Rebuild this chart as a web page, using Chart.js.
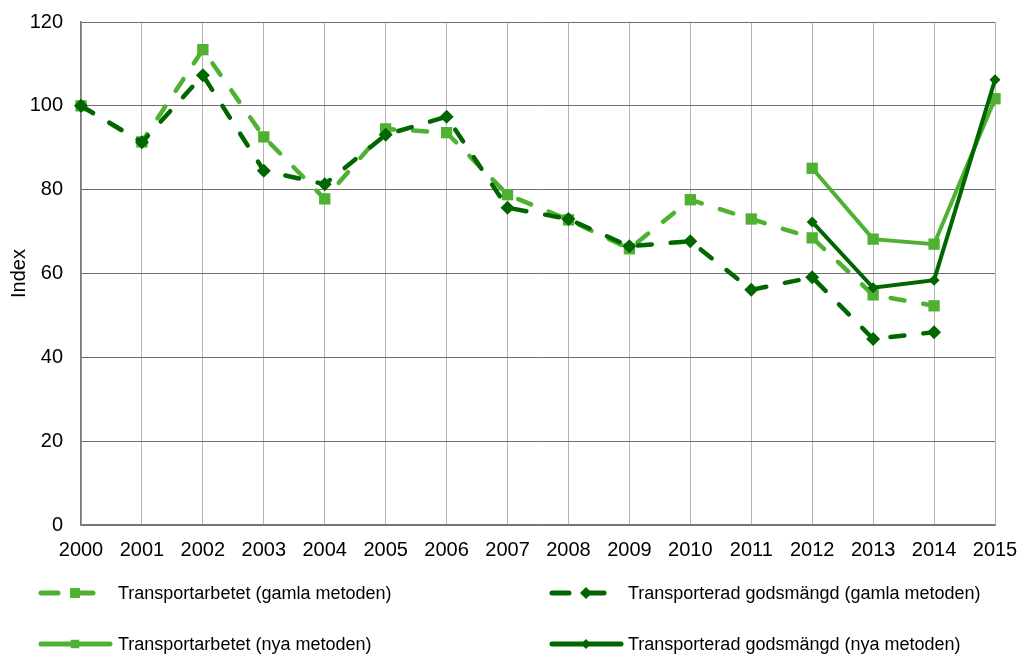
<!DOCTYPE html>
<html>
<head>
<meta charset="utf-8">
<script src="https://cdn.jsdelivr.net/npm/chart.js@4.4.0/dist/chart.umd.min.js"></script>
<style>
  body { margin: 0; background: #fff; }
  #wrap { width: 1021px; height: 655px; }
</style>
</head>
<body>
<div id="wrap"><canvas id="lineChart" width="1021" height="655"></canvas></div>
<script>
// år på x-axeln
var years = ['2000','2001','2002','2003','2004','2005','2006','2007','2008','2009','2010','2011','2012','2013','2014','2015'];
// gamla metoden (saknar 2015)
var arbeteGamla = [100, 91.4, 113.4, 92.6, 77.8, 94.5, 93.6, 78.8, 72.8, 65.9, 77.6, 73.0, 68.5, 54.9, 52.3, null];
var godsGamla   = [100, 91.3, 107.3, 84.5, 81.3, 93.1, 97.4, 75.7, 73.0, 66.5, 67.7, 56.1, 59.1, 44.4, 46.0, null];
// nya metoden (från 2012)
var arbeteNya = [null, null, null, null, null, null, null, null, null, null, null, null, 85.1, 68.2, 67.0, 101.7];
var godsNya   = [null, null, null, null, null, null, null, null, null, null, null, null, 72.3, 56.6, 58.4, 106.2];
var yTicks = [0, 20, 40, 60, 80, 100, 120];

var ljus = '#4fb131';
var mork = '#006600';
var font = "'Liberation Sans', Arial, sans-serif";

// legenden ritas själv, två kolumner: [x, y, textx]
var legendPos = [[39, 593, 118], [550, 593, 628], [39, 644, 118], [550, 644, 628]];
var legendPlugin = {
    id: 'tvaKolumner',
    afterDraw: function(chart) {
        var ctx = chart.ctx;
        chart.data.datasets.forEach(function(ds, i) {
            var p = legendPos[i];
            var x = p[0], y = p[1];
            var streckad = ds.borderDash.length > 0;
            ctx.save();
            ctx.strokeStyle = ds.borderColor;
            ctx.fillStyle = ds.pointBackgroundColor;
            ctx.lineWidth = 5;
            ctx.lineCap = 'round';
            ctx.beginPath();
            if (streckad) {
                ctx.moveTo(x + 2, y); ctx.lineTo(x + 19, y);
                ctx.moveTo(x + 34, y); ctx.lineTo(x + 54, y);
            } else {
                ctx.moveTo(x + 2, y); ctx.lineTo(x + 71, y);
            }
            ctx.stroke();
            Chart.helpers.drawPoint(ctx, {
                pointStyle: ds.pointStyle,
                radius: ds.pointStyle === 'rect' ? (streckad ? 7 : 6) : (streckad ? 6 : 5),
                rotation: 0,
                borderWidth: 0
            }, x + 36, y);
            ctx.fillStyle = '#000';
            ctx.font = '18px ' + font;
            ctx.textBaseline = 'middle';
            ctx.fillText(ds.label, p[2], y + 1);
            ctx.restore();
        });
    }
};

var ctxLine = document.getElementById('lineChart');
var myLineChart = new Chart(ctxLine, {
    type: 'line',
    data: {
        labels: years,
        datasets: [
            {
                label: 'Transportarbetet (gamla metoden)',
                data: arbeteGamla,
                borderColor: ljus,
                backgroundColor: ljus,
                pointBackgroundColor: ljus,
                pointBorderColor: ljus,
                borderWidth: 4.5,
                borderDash: [14, 19],
                borderCapStyle: 'round',
                pointStyle: 'rect',
                pointRadius: 8,
                pointBorderWidth: 0,
                order: 4
            },
            {
                label: 'Transporterad godsmängd (gamla metoden)',
                data: godsGamla,
                borderColor: mork,
                backgroundColor: mork,
                pointBackgroundColor: mork,
                pointBorderColor: mork,
                borderWidth: 4.5,
                borderDash: [14, 19],
                borderCapStyle: 'round',
                pointStyle: 'rectRot',
                pointRadius: 7,
                pointBorderWidth: 0,
                order: 3
            },
            {
                label: 'Transportarbetet (nya metoden)',
                data: arbeteNya,
                borderColor: ljus,
                backgroundColor: ljus,
                pointBackgroundColor: ljus,
                pointBorderColor: ljus,
                borderWidth: 4,
                borderDash: [],
                pointStyle: 'rect',
                pointRadius: 8,
                pointBorderWidth: 0,
                order: 2
            },
            {
                label: 'Transporterad godsmängd (nya metoden)',
                data: godsNya,
                borderColor: mork,
                backgroundColor: mork,
                pointBackgroundColor: mork,
                pointBorderColor: mork,
                borderWidth: 4,
                borderDash: [],
                pointStyle: 'rectRot',
                pointRadius: 5.5,
                pointBorderWidth: 0,
                order: 1
            }
        ]
    },
    options: {
        responsive: false,
        animation: false,
        spanGaps: false,
        layout: { padding: { left: 0, right: 26, top: 22, bottom: 90 } },
        plugins: {
            legend: { display: false },
            tooltip: { enabled: false }
        },
        scales: {
            x: {
                offset: false,
                grid: { color: '#b4b4b4', lineWidth: 1, drawTicks: false },
                border: { color: '#7a7a7a', width: 1.5 },
                ticks: {
                    autoSkip: false,
                    maxRotation: 0,
                    padding: 13,
                    color: '#000',
                    font: { family: font, size: 20 }
                },
                afterFit: function(scale) {
                    scale.height = 40;
                    scale.paddingLeft = 0;
                    scale.paddingRight = 0;
                }
            },
            y: {
                min: 0,
                max: 120,
                afterBuildTicks: function(scale) {
                    scale.ticks = yTicks.map(function(v) { return { value: v }; });
                },
                grid: { color: '#6e6e6e', lineWidth: 1, drawTicks: false },
                border: { color: '#7a7a7a', width: 1.5 },
                ticks: {
                    padding: 18,
                    color: '#000',
                    font: { family: font, size: 20 }
                },
                title: {
                    display: true,
                    text: 'Index',
                    color: '#000',
                    font: { family: font, size: 20 },
                    padding: { top: 7, bottom: 0 }
                },
                afterFit: function(scale) {
                    scale.width = 81;
                    scale.paddingTop = 0;
                    scale.paddingBottom = 0;
                }
            }
        }
    },
    plugins: [legendPlugin]
});
</script>
</body>
</html>
